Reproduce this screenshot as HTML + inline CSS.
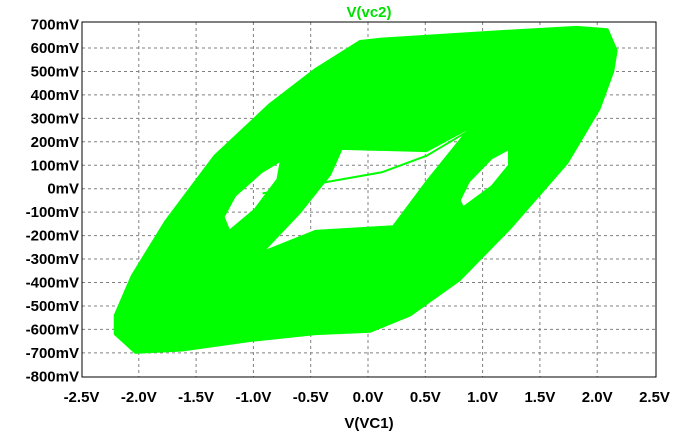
<!DOCTYPE html>
<html><head><meta charset="utf-8"><style>
body{margin:0;background:#fff;}
svg{display:block;font-family:"Liberation Sans",sans-serif;font-weight:bold;}
</style></head><body>
<svg id="chart" width="678" height="434">
<g id="grid"></g>
<g id="trace"></g>
<rect x="82" y="22" width="574" height="355" fill="none" stroke="#000" stroke-width="1"/>
<g id="ticks"></g>
<text x="369" y="17" text-anchor="middle" fill="#00e000" font-size="15">V(vc2)</text>
<text x="369" y="428" text-anchor="middle" fill="#000" font-size="15">V(VC1)</text>
</svg>
<script>
const xTicks=[-2.5,-2.0,-1.5,-1.0,-0.5,0.0,0.5,1.0,1.5,2.0,2.5];
const xTickLabels=["-2.5V","-2.0V","-1.5V","-1.0V","-0.5V","0.0V","0.5V","1.0V","1.5V","2.0V","2.5V"];
const yTicks=[0.7,0.6,0.5,0.4,0.3,0.2,0.1,0,-0.1,-0.2,-0.3,-0.4,-0.5,-0.6,-0.7,-0.8];
const yTickLabels=["700mV","600mV","500mV","400mV","300mV","200mV","100mV","0mV","-100mV","-200mV","-300mV","-400mV","-500mV","-600mV","-700mV","-800mV"];
const outerX=[0.12,1.09,1.82,2.09,2.17,2.14,2.02,1.74,1.24,0.80,0.37,0.02,-0.46,-1.04,-1.62,-2.03,-2.21,-2.21,-2.06,-1.77,-1.34,-0.86,-0.46,-0.07];
const outerY=[0.64,0.67,0.69,0.68,0.59,0.50,0.34,0.11,-0.17,-0.39,-0.54,-0.61,-0.62,-0.65,-0.69,-0.70,-0.62,-0.54,-0.37,-0.14,0.14,0.36,0.51,0.63];
const gapX=[-0.23,0.51,0.89,0.51,0.22,-0.46,-0.92,-0.59,-0.33];
const gapY=[0.17,0.16,0.26,0.03,-0.16,-0.18,-0.27,-0.10,0.06];
const leftHoleX=[-0.76,-0.79,-0.99,-1.21,-1.26,-1.16,-0.93];
const leftHoleY=[0.12,0.04,-0.09,-0.18,-0.12,-0.03,0.07];
const rightHoleX=[1.23,1.23,1.08,0.83,0.80,0.88,1.08];
const rightHoleY=[0.17,0.10,0.01,-0.08,-0.05,0.03,0.13];
const strandX=[-0.92,0.12,0.51,0.89];
const strandY=[-0.02,0.07,0.14,0.25];
const NS="http://www.w3.org/2000/svg";
const sx=v=>368+v*114.6, sy=v=>188.7-v*234.5;
const grid=document.getElementById('grid'), ticks=document.getElementById('ticks'), trace=document.getElementById('trace');
xTicks.forEach((t,i)=>{
  if(i>0&&i<xTicks.length-1){const l=document.createElementNS(NS,'line');
  
  
  l.setAttribute('x1',sx(t));l.setAttribute('x2',sx(t));l.setAttribute('y1',22);l.setAttribute('y2',377);
  l.setAttribute('stroke','#808080');l.setAttribute('stroke-dasharray','3,3');grid.appendChild(l);}
  const tx=document.createElementNS(NS,'text');
  
  
  tx.setAttribute('x',sx(t));tx.setAttribute('y',402);tx.setAttribute('text-anchor','middle');tx.setAttribute('font-size','15');
  tx.textContent=xTickLabels[i];ticks.appendChild(tx);
});
yTicks.forEach((t,i)=>{
  if(i>0&&i<yTicks.length-1){const l=document.createElementNS(NS,'line');
  
  
  l.setAttribute('y1',sy(t));l.setAttribute('y2',sy(t));l.setAttribute('x1',82);l.setAttribute('x2',656);
  l.setAttribute('stroke','#808080');l.setAttribute('stroke-dasharray','3,3');grid.appendChild(l);}
  const tx=document.createElementNS(NS,'text');
  
  
  tx.setAttribute('x',79);tx.setAttribute('y',sy(t)+5);tx.setAttribute('text-anchor','end');tx.setAttribute('font-size','15');
  tx.textContent=yTickLabels[i];ticks.appendChild(tx);
});
const poly=(xs,ys)=>'M'+xs.map((x,i)=>sx(x)+','+sy(ys[i])).join('L')+'Z';
const p=document.createElementNS(NS,'path');


p.setAttribute('d',poly(outerX,outerY)+poly(leftHoleX,leftHoleY)+poly(rightHoleX,rightHoleY)+poly(gapX,gapY));
p.setAttribute('fill','#00ff00');p.setAttribute('fill-rule','evenodd');
p.setAttribute('stroke','#00ff00');p.setAttribute('stroke-width','2');p.setAttribute('stroke-linejoin','round');
trace.appendChild(p);
const s=document.createElementNS(NS,'path');


s.setAttribute('d','M'+strandX.map((x,i)=>sx(x)+','+sy(strandY[i])).join('L'));
s.setAttribute('fill','none');s.setAttribute('stroke','#00ff00');s.setAttribute('stroke-width','2');
trace.appendChild(s);
</script>
</body></html>
